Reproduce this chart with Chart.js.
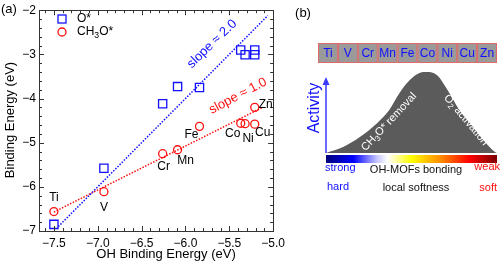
<!DOCTYPE html>
<html>
<head>
<meta charset="utf-8">
<script src="https://cdn.jsdelivr.net/npm/chart.js@4.4.1/dist/chart.umd.min.js"></script>
<style>
  html, body { margin: 0; padding: 0; background: #fff; }
  #wrap { position: relative; width: 501px; height: 262px; }
  #scatter { position: absolute; left: 0; top: 0; }
  #scheme { position: absolute; left: 290px; top: 0; }
</style>
</head>
<body>
<div id="wrap">
  <canvas id="scatter" width="290" height="262"></canvas>
  <canvas id="scheme" width="211" height="262"></canvas>
</div>
<script>
// panel (a) data
const elements = ['Ti', 'V', 'Cr', 'Mn', 'Fe', 'Co', 'Ni', 'Cu', 'Zn'];
const ohEnergy = [-7.5, -6.93, -6.26, -6.09, -5.84, -5.37, -5.32, -5.21, -5.21];
const oEnergy = [-6.85, -5.58, -4.12, -3.73, -3.75, -2.9, -3.01, -3.01, -2.9];
const ch3oEnergy = [-6.56, -6.11, -5.25, -5.16, -4.63, -4.56, -4.57, -4.58, -4.2];
const oFitX = [-7.45, -5.06];
const oFitY = [-6.9, -2.12];
const ch3oFitX = [-7.5, -5.12];
const ch3oFitY = [-6.57, -4.2];
const xTicks = [-7.5, -7.0, -6.5, -6.0, -5.5, -5.0];
const yTicks = [-7, -6, -5, -4, -3, -2];

// panel (b) data: activity volcano, normalised
const humpX = [0, 0.10, 0.20, 0.30, 0.37, 0.43, 0.49, 0.55, 0.59, 0.65, 0.71, 0.78, 0.86, 0.92, 0.99, 1.0];
const humpY = [0, 0.074, 0.20, 0.37, 0.53, 0.74, 0.90, 0.99, 1.0, 0.96, 0.78, 0.53, 0.32, 0.16, 0.01, 0];

const BLUE = '#1010ff';
const RED = '#ff1010';
const FONT = '"Liberation Sans", Arial, Helvetica, sans-serif';

// label offsets (px) for element names next to the CH3O* circles
const labelOffsets = {
    Ti: [0, -14], V: [0, 16], Cr: [1, 13], Mn: [8, 11], Fe: [-8, 8],
    Co: [-8, 10], Ni: [3, 15], Cu: [8, 9], Zn: [11, -3]
};

function richText(ctx, parts, x, y, size, align, color) {
    ctx.fillStyle = color;
    ctx.textBaseline = 'middle';
    ctx.textAlign = 'left';
    const fonts = parts.map(p => (p[1] ? size * 0.72 : size) + 'px ' + FONT);
    let w = 0;
    parts.forEach((p, i) => { ctx.font = fonts[i]; w += ctx.measureText(p[0]).width; });
    let cx = align === 'center' ? x - w / 2 : align === 'right' ? x - w : x;
    parts.forEach((p, i) => {
        ctx.font = fonts[i];
        ctx.fillText(p[0], cx, y + (p[1] ? size * 0.3 : 0));
        cx += ctx.measureText(p[0]).width;
    });
}

function rotText(ctx, parts, x, y, deg, size, color) {
    ctx.save();
    ctx.translate(x, y);
    ctx.rotate(deg * Math.PI / 180);
    richText(ctx, parts, 0, 0, size, 'center', color);
    ctx.restore();
}

const fmt = digits => v => (v < 0 ? '\u2212' : '') + Math.abs(v).toFixed(digits);

const panelA = {
    id: 'panelA',
    afterDraw(chart) {
        const { ctx, chartArea: a, scales: { x, y } } = chart;
        ctx.save();
        ctx.strokeStyle = '#333';
        ctx.lineWidth = 1;
        ctx.beginPath();
        for (let i = -76; i <= -50; i++) {
            const major = i % 5 === 0;
            const len = major ? 5 : 3;
            const px = Math.round(x.getPixelForValue(i / 10)) + 0.5;
            ctx.moveTo(px, a.bottom); ctx.lineTo(px, a.bottom - len);
            ctx.moveTo(px, a.top); ctx.lineTo(px, a.top + len);
        }
        for (let i = -35; i <= -10; i++) {
            const major = i % 5 === 0;
            const len = major ? 5 : 3;
            const py = Math.round(y.getPixelForValue(i / 5)) + 0.5;
            ctx.moveTo(a.left, py); ctx.lineTo(a.left + len, py);
            ctx.moveTo(a.right, py); ctx.lineTo(a.right - len, py);
        }
        ctx.stroke();
        ctx.strokeRect(Math.round(a.left) + 0.5, Math.round(a.top) + 0.5,
            Math.round(a.right - a.left), Math.round(a.bottom - a.top));

        // element labels
        elements.forEach((el, i) => {
            const px = x.getPixelForValue(ohEnergy[i]);
            const py = y.getPixelForValue(ch3oEnergy[i]);
            const off = labelOffsets[el];
            richText(ctx, [[el]], px + off[0], py + off[1], 12, 'center', '#000');
        });

        // slope notes
        rotText(ctx, [['slope \u2248 2.0']], 212, 44, -44, 13, BLUE);
        rotText(ctx, [['slope \u2248 1.0']], 238, 96, -28, 13, RED);

        // legend
        ctx.lineWidth = 1.3;
        ctx.strokeStyle = BLUE;
        ctx.strokeRect(58, 15, 8, 8);
        ctx.strokeStyle = RED;
        ctx.beginPath();
        ctx.arc(62, 32, 4, 0, Math.PI * 2);
        ctx.stroke();
        richText(ctx, [['O*']], 77, 19, 12, 'left', '#000');
        richText(ctx, [['CH'], ['3', true], ['O*']], 77, 32, 12, 'left', '#000');

        // axis titles and panel tag
        richText(ctx, [['OH Binding Energy (eV)']], 166, 254, 13, 'center', '#000');
        rotText(ctx, [['Binding Energy (eV)']], 10, 120, -90, 13, '#000');
        richText(ctx, [['(a)']], 1, 9, 13, 'left', '#000');
        ctx.restore();
    }
};

new Chart(document.getElementById('scatter'), {
    type: 'scatter',
    data: {
        datasets: [
            {
                label: 'O*',
                data: ohEnergy.map((v, i) => ({ x: v, y: oEnergy[i] })),
                pointStyle: 'rect',
                pointRadius: 5.8,
                pointBorderColor: BLUE,
                pointBackgroundColor: 'rgba(0,0,0,0)',
                pointBorderWidth: 1.3
            },
            {
                label: 'CH3O*',
                data: ohEnergy.map((v, i) => ({ x: v, y: ch3oEnergy[i] })),
                pointStyle: 'circle',
                pointRadius: 4,
                pointBorderColor: RED,
                pointBackgroundColor: 'rgba(0,0,0,0)',
                pointBorderWidth: 1.3
            },
            {
                data: oFitX.map((v, i) => ({ x: v, y: oFitY[i] })),
                showLine: true,
                borderColor: BLUE,
                borderWidth: 1.5,
                borderDash: [1.5, 1.5],
                pointRadius: 0
            },
            {
                data: ch3oFitX.map((v, i) => ({ x: v, y: ch3oFitY[i] })),
                showLine: true,
                borderColor: RED,
                borderWidth: 1.5,
                borderDash: [1.5, 1.5],
                pointRadius: 0
            }
        ]
    },
    options: {
        responsive: false,
        animation: false,
        devicePixelRatio: 1,
        layout: { padding: { top: 8, right: 14, left: 0, bottom: 0 } },
        plugins: { legend: { display: false }, tooltip: { enabled: false } },
        scales: {
            x: {
                type: 'linear',
                min: -7.67,
                max: -5.0,
                afterBuildTicks: s => { s.ticks = xTicks.map(v => ({ value: v })); },
                afterFit: s => { s.height = 31; },
                grid: { display: false, drawTicks: false },
                border: { display: false },
                ticks: { padding: 5, color: '#000', font: { family: FONT, size: 12 }, callback: fmt(1), maxRotation: 0 }
            },
            y: {
                type: 'linear',
                min: -7,
                max: -2,
                afterBuildTicks: s => { s.ticks = yTicks.map(v => ({ value: v })); },
                afterFit: s => { s.width = 39; },
                grid: { display: false, drawTicks: false },
                border: { display: false },
                ticks: { padding: 3, color: '#000', font: { family: FONT, size: 12 }, callback: fmt(0) }
            }
        }
    },
    plugins: [panelA]
});

const panelB = {
    id: 'panelB',
    afterDraw(chart) {
        const { ctx, chartArea: a } = chart;
        ctx.save();

        // element row
        const bx0 = a.left - 8, bw = (a.right - bx0) / elements.length;
        elements.forEach((el, i) => {
            ctx.fillStyle = '#9a9a9a';
            ctx.fillRect(bx0 + i * bw, 43, bw, 20);
            ctx.strokeStyle = '#e06a6a';
            ctx.lineWidth = 1;
            ctx.strokeRect(bx0 + i * bw + 0.5, 43.5, bw - 1, 19);
            richText(ctx, [[el]], bx0 + (i + 0.5) * bw, 53.5, 12, 'center', BLUE);
        });

        // softness colour bar
        const g = ctx.createLinearGradient(a.left, 0, a.right, 0);
        g.addColorStop(0, '#00007a');
        g.addColorStop(0.16, '#0000ff');
        g.addColorStop(0.30, '#c8c8ff');
        g.addColorStop(0.36, '#ffffff');
        g.addColorStop(0.50, '#ffff00');
        g.addColorStop(0.67, '#ff8c00');
        g.addColorStop(0.84, '#ff0000');
        g.addColorStop(1, '#7a0000');
        ctx.fillStyle = g;
        ctx.fillRect(a.left, a.bottom + 2, a.right - a.left, 8);

        // activity arrow
        ctx.strokeStyle = '#3a3aff';
        ctx.fillStyle = '#3a3aff';
        ctx.lineWidth = 1.5;
        ctx.beginPath();
        ctx.moveTo(a.left, a.bottom);
        ctx.lineTo(a.left, a.top + 10);
        ctx.stroke();
        ctx.beginPath();
        ctx.moveTo(a.left - 3.5, a.top + 13);
        ctx.lineTo(a.left + 3.5, a.top + 13);
        ctx.lineTo(a.left, a.top + 5);
        ctx.closePath();
        ctx.fill();
        rotText(ctx, [['Activity']], a.left - 11, 108, -90, 16, BLUE);

        // texts on the volcano
        rotText(ctx, [['CH'], ['3', true], ['O* removal']], 99, 122, -47, 11, '#fff');
        rotText(ctx, [['O'], ['2', true], [' activation']], 176, 120, 50, 11, '#fff');

        // scale captions
        richText(ctx, [['strong']], a.left - 1, 168, 11, 'left', BLUE);
        richText(ctx, [['OH-MOFs bonding']], 126, 170, 11, 'center', '#111');
        richText(ctx, [['weak']], a.right + 3, 167, 11, 'right', RED);
        richText(ctx, [['hard']], a.left + 1, 187, 11, 'left', BLUE);
        richText(ctx, [['local softness']], 126, 188, 11, 'center', '#111');
        richText(ctx, [['soft']], a.right, 188, 11, 'right', RED);

        richText(ctx, [['(b)']], 13, 13, 13, 'center', '#000');
        ctx.restore();
    }
};

new Chart(document.getElementById('scheme'), {
    type: 'line',
    data: {
        datasets: [{
            data: humpX.map((v, i) => ({ x: v, y: humpY[i] })),
            borderWidth: 0,
            borderColor: '#5b5b5b',
            backgroundColor: '#5b5b5b',
            fill: 'start',
            pointRadius: 0,
            cubicInterpolationMode: 'monotone',
            clip: false
        }]
    },
    options: {
        responsive: false,
        animation: false,
        devicePixelRatio: 1,
        layout: { padding: { top: 72, right: 4, left: 36, bottom: 109 } },
        plugins: { legend: { display: false }, tooltip: { enabled: false } },
        scales: {
            x: { type: 'linear', min: 0, max: 1, display: false },
            y: { type: 'linear', min: 0, max: 1, display: false }
        }
    },
    plugins: [panelB]
});
</script>
</body>
</html>
